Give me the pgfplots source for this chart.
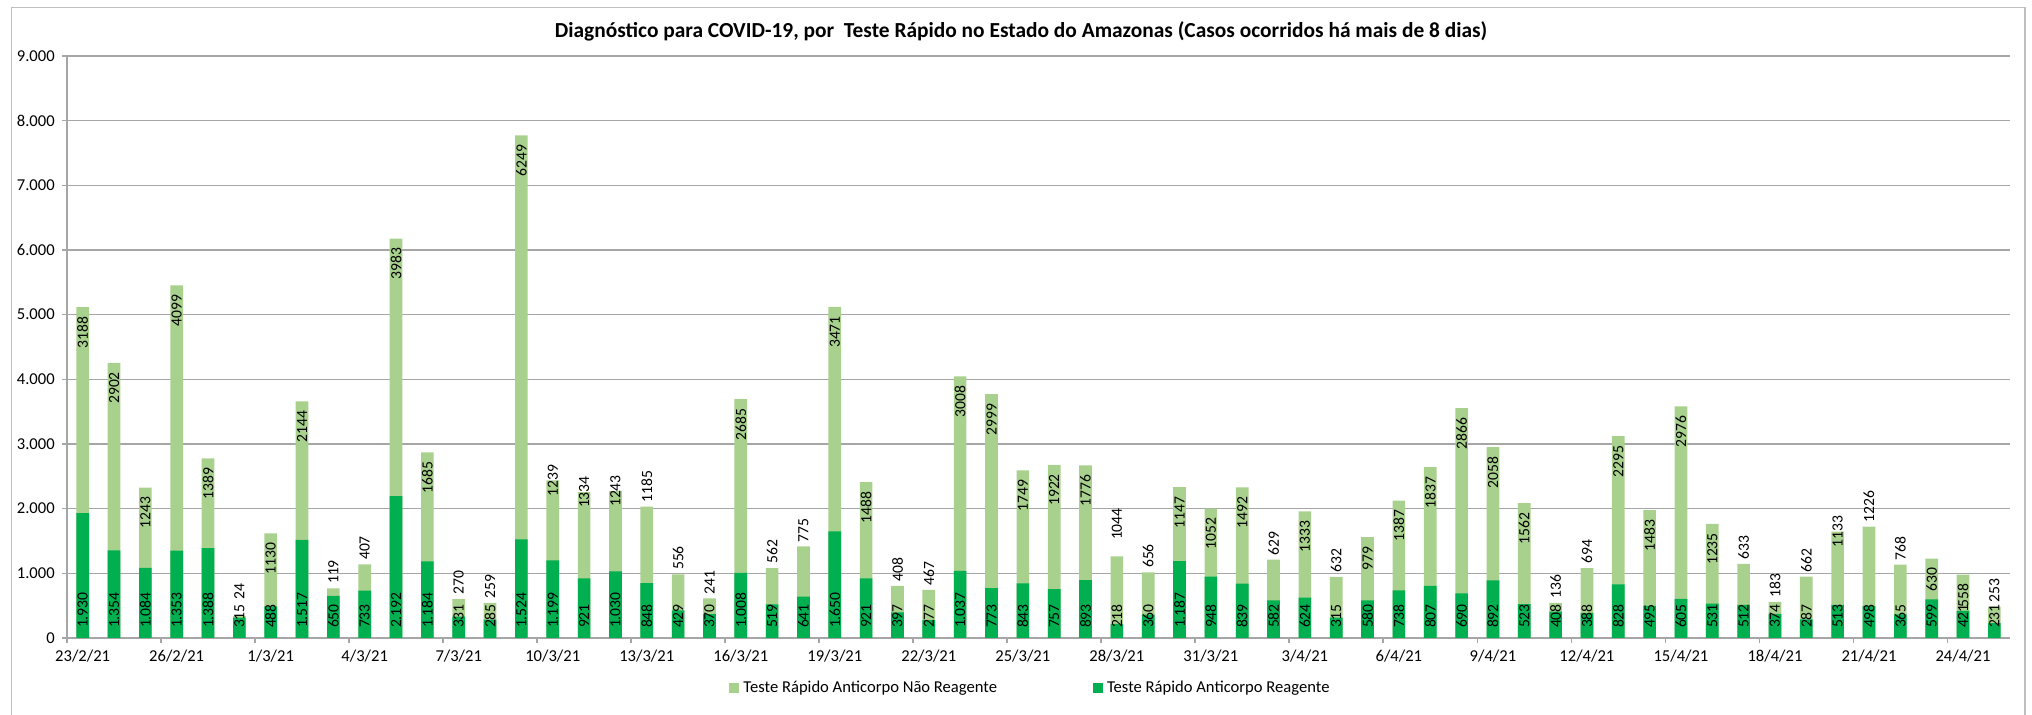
\documentclass[border=0pt]{standalone}
\usepackage{pgfplots}
\usepackage{pgfplotstable}
\usepackage{fontspec}
\setmainfont{Carlito}
\pgfplotsset{compat=1.18}

\definecolor{naoreag}{HTML}{A9D18E}
\definecolor{reag}{HTML}{00B050}
\definecolor{gridc}{HTML}{A6A6A6}
\definecolor{framec}{HTML}{BFBFBF}

\newcommand{\tickfont}{\fontsize{8.3}{9.9}\selectfont}
\newcommand{\lblfont}{\fontsize{7.8}{9.4}\selectfont}

% g = reagente, l = nao reagente
% pos = where the nao reagente label sits:
%   0 inside the top, 1 centred on the top, 2 above, 3 further above
\pgfplotstableread{
x  g     l     pos
0  1930  3188  0
1  1354  2902  0
2  1084  1243  0
3  1353  4099  0
4  1388  1389  0
5  315   24    3
6  488   1130  0
7  1517  2144  0
8  650   119   2
9  733   407   2
10 2192  3983  0
11 1184  1685  0
12 331   270   2
13 285   259   2
14 1524  6249  0
15 1199  1239  1
16 921   1334  1
17 1030  1243  1
18 848   1185  2
19 429   556   2
20 370   241   2
21 1008  2685  0
22 519   562   2
23 641   775   2
24 1650  3471  0
25 921   1488  0
26 397   408   2
27 277   467   2
28 1037  3008  0
29 773   2999  0
30 843   1749  0
31 757   1922  0
32 893   1776  0
33 218   1044  3
34 360   656   2
35 1187  1147  0
36 948   1052  0
37 839   1492  0
38 582   629   2
39 624   1333  0
40 315   632   2
41 580   979   0
42 738   1387  0
43 807   1837  0
44 690   2866  0
45 892   2058  0
46 523   1562  0
47 408   136   2
48 388   694   2
49 828   2295  0
50 495   1483  0
51 605   2976  0
52 531   1235  0
53 512   633   2
54 374   183   2
55 287   662   2
56 513   1133  1
57 498   1226  2
58 365   768   2
59 599   630   0
60 421   558   0
61 231   253   2
}\testes

\pgfplotsset{
  toplabel/.style 2 args={forget plot, draw=none, mark=none,
    nodes near coords={\pgfmathprintnumber[1000 sep={}]{\pgfplotspointmeta}},
    point meta=explicit,
    every node near coord/.append style={rotate=90, anchor=#1, font=\lblfont,
      inner xsep=#2, inner ysep=0pt, text=black}},
}

\begin{document}
\begin{tikzpicture}
\useasboundingbox (0,0) rectangle (1016pt,357.5pt);
\draw[framec, line width=0.7pt] (5.85pt,0pt) -- (5.85pt,353.85pt) -- (1012.5pt,353.85pt) -- (1012.5pt,0pt);
\begin{axis}[
  at={(33.5pt,38.5pt)}, anchor=south west,
  scale only axis, width=971.5pt, height=291pt,
  xmin=-0.5, xmax=61.5, ymin=0, ymax=9000,
  clip=false,
  axis lines*=left,
  axis line style={gridc, line width=0.75pt},
  tick align=outside, major tick length=2.6pt,
  tick style={gridc, line width=0.75pt},
  ytick={0,1000,...,9000},
  ymajorgrids, grid style={gridc, line width=0.75pt},
  xtick={-0.5,2.5,...,59.5},
  xticklabels={23/2/21,26/2/21,1/3/21,4/3/21,7/3/21,10/3/21,13/3/21,16/3/21,19/3/21,22/3/21,25/3/21,28/3/21,31/3/21,3/4/21,6/4/21,9/4/21,12/4/21,15/4/21,18/4/21,21/4/21,24/4/21},
  x tick label style={xshift=7.835pt, font=\tickfont},
  y tick label style={font=\tickfont},
  /pgf/number format/1000 sep={.},
  /pgf/number format/assume math mode=true,
  title={Diagnóstico para COVID-19, por~ Teste Rápido no Estado do Amazonas (Casos ocorridos há mais de 8 dias)},
  title style={at={(0.5,1)}, anchor=center, yshift=6.4pt, xshift=-8.75pt, font=\bfseries\fontsize{10.7}{12}\selectfont},
  legend columns=2,
  legend style={at={(0.4964,-0.0859)}, anchor=center, draw=none, fill=none, font=\tickfont,
    /tikz/every even column/.append style={column sep=46pt}},
  legend image code/.code={\draw[#1,/tikz/.cd,draw=none] (0pt,-2.5pt) rectangle (5pt,2.5pt);},
]
\addplot[ybar, bar width=6.33pt, bar shift=0pt, fill=naoreag, draw=none]
  table[x=x, y expr=\thisrow{g}+\thisrow{l}] {\testes};
\addplot[ybar, bar width=6.33pt, bar shift=0pt, fill=reag, draw=none]
  table[x=x, y=g] {\testes};
\legend{Teste Rápido Anticorpo Não Reagente, Teste Rápido Anticorpo Reagente}

% rotated labels of the reagente bars, near their foot
\addplot[forget plot, draw=none, mark=none,
  nodes near coords, point meta=explicit,
  every node near coord/.append style={rotate=90, anchor=west, font=\lblfont,
    inner xsep=4.8pt, inner ysep=0pt, text=black}]
  table[x=x, y expr=0, meta=g] {\testes};
% labels of the nao reagente bars, at the top of each stack
\addplot[toplabel={east}{4.5pt}, restrict expr to domain={\thisrow{pos}}{0:0}]
  table[x=x, y expr=\thisrow{g}+\thisrow{l}, meta=l] {\testes};
\addplot[toplabel={center}{0pt}, restrict expr to domain={\thisrow{pos}}{1:1}]
  table[x=x, y expr=\thisrow{g}+\thisrow{l}, meta=l] {\testes};
\addplot[toplabel={west}{2pt}, restrict expr to domain={\thisrow{pos}}{2:2}]
  table[x=x, y expr=\thisrow{g}+\thisrow{l}, meta=l] {\testes};
\addplot[toplabel={west}{8pt}, restrict expr to domain={\thisrow{pos}}{3:3}]
  table[x=x, y expr=\thisrow{g}+\thisrow{l}, meta=l] {\testes};
\end{axis}
\end{tikzpicture}
\end{document}
